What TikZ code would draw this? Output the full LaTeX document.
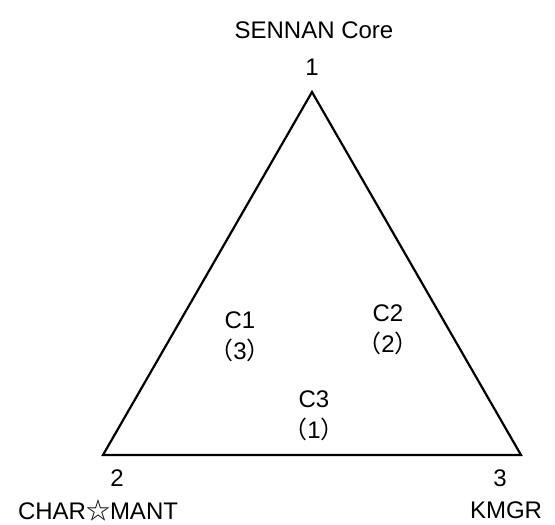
\documentclass[tikz,border=0pt]{standalone}
\usepackage{fontspec}
\setmainfont{Liberation Sans}
\newfontfamily\jp{Noto Sans CJK JP}
\usetikzlibrary{positioning}
\newcommand{\fwl}{{\jp （}}
\newcommand{\fwr}{{\jp ）}}
\tikzset{%
    every node/.style={font=\fontsize{24}{31}\selectfont},
    tag/.style={align=center,inner sep=0pt},
    side/.style={line width=2.2pt,line join=miter}
}

\begin{document}
\begin{tikzpicture}[x=1pt,y=-1pt]
            \useasboundingbox (0,0) rectangle (555,525);
            \coordinate (v1) at (312,92);
            \coordinate (v2) at (103,455);
            \coordinate (v3) at (521,455);
            %%%%%
            \draw [side] (v1) -- (v2) -- (v3) -- cycle;
            %%%%%
            \node [tag] (n1) at (312,67) {1};
            \node [tag] (t1) at (314,30) {SENNAN Core};
            \node [tag] (n2) at (117,478) {2};
            \node [tag] (t2) at (98,510) {CHAR{\jp ☆}MANT};
            \node [tag] (n3) at (500,478) {3};
            \node [tag] (t3) at (506,510) {KMGR};
            \node [tag] (c1) at (240,337) {C1\\\fwl 3\fwr};
            \node [tag] (c2) at (388,330) {C2\\\fwl 2\fwr};
            \node [tag] (c3) at (314,416) {C3\\\fwl 1\fwr};
\end{tikzpicture}
\end{document}
